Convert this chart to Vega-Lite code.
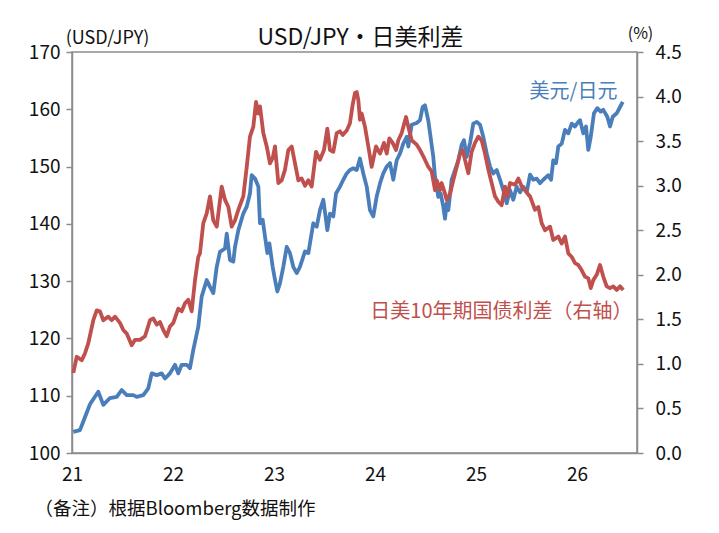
{
  "$schema": "https://vega.github.io/schema/vega-lite/v6.json",
  "width": 565,
  "height": 401,
  "autosize": {"type": "none"},
  "padding": {"left": 72, "top": 52, "right": 82, "bottom": 80},
  "background": "white",
  "config": {
    "font": "Noto Sans CJK JP",
    "view": {"stroke": "#8c8c8c", "strokeWidth": 1.5},
    "axis": {
      "grid": false,
      "domainColor": "#8c8c8c",
      "domainWidth": 1.5,
      "tickColor": "#8c8c8c",
      "tickWidth": 1.5,
      "labelColor": "#111111",
      "labelFontSize": 19,
      "labelFont": "Noto Sans CJK JP",
      "titleFont": "Noto Sans CJK JP",
      "titleColor": "#111111",
      "titleFontWeight": "normal"
    }
  },
  "title": {
    "text": "USD/JPY・日美利差",
    "fontSize": 23,
    "fontWeight": "normal",
    "color": "#111111",
    "anchor": "middle",
    "frame": "group",
    "offset": -25,
    "dx": 6
  },
  "datasets": {
    "usdjpy": [
      {"t": 21.013, "usdjpy": 103.7}, {"t": 21.079, "usdjpy": 104.0}, {"t": 21.112, "usdjpy": 105.5},
      {"t": 21.178, "usdjpy": 108.5}, {"t": 21.26, "usdjpy": 110.7}, {"t": 21.31, "usdjpy": 108.4},
      {"t": 21.376, "usdjpy": 109.6}, {"t": 21.443, "usdjpy": 109.8}, {"t": 21.492, "usdjpy": 111.0},
      {"t": 21.542, "usdjpy": 110.1}, {"t": 21.607, "usdjpy": 110.1}, {"t": 21.641, "usdjpy": 109.8},
      {"t": 21.706, "usdjpy": 110.1}, {"t": 21.755, "usdjpy": 111.3}, {"t": 21.789, "usdjpy": 113.9},
      {"t": 21.839, "usdjpy": 113.6}, {"t": 21.888, "usdjpy": 113.9}, {"t": 21.921, "usdjpy": 113.0},
      {"t": 21.97, "usdjpy": 113.9}, {"t": 22.02, "usdjpy": 115.4}, {"t": 22.052, "usdjpy": 113.9},
      {"t": 22.086, "usdjpy": 115.4}, {"t": 22.136, "usdjpy": 115.4}, {"t": 22.168, "usdjpy": 114.8},
      {"t": 22.201, "usdjpy": 118.0}, {"t": 22.25, "usdjpy": 122.0}, {"t": 22.284, "usdjpy": 127.3},
      {"t": 22.334, "usdjpy": 130.2}, {"t": 22.366, "usdjpy": 129.0}, {"t": 22.399, "usdjpy": 127.9},
      {"t": 22.433, "usdjpy": 132.5}, {"t": 22.465, "usdjpy": 135.1}, {"t": 22.515, "usdjpy": 135.7},
      {"t": 22.532, "usdjpy": 138.3}, {"t": 22.564, "usdjpy": 133.7}, {"t": 22.597, "usdjpy": 133.4},
      {"t": 22.614, "usdjpy": 136.0}, {"t": 22.647, "usdjpy": 138.9}, {"t": 22.696, "usdjpy": 141.8},
      {"t": 22.73, "usdjpy": 143.0}, {"t": 22.762, "usdjpy": 145.3}, {"t": 22.779, "usdjpy": 148.5},
      {"t": 22.812, "usdjpy": 147.9}, {"t": 22.845, "usdjpy": 146.5}, {"t": 22.861, "usdjpy": 140.1},
      {"t": 22.888, "usdjpy": 140.7}, {"t": 22.911, "usdjpy": 137.8}, {"t": 22.934, "usdjpy": 134.9},
      {"t": 22.954, "usdjpy": 136.6}, {"t": 22.987, "usdjpy": 132.5}, {"t": 23.01, "usdjpy": 130.2},
      {"t": 23.033, "usdjpy": 128.2}, {"t": 23.059, "usdjpy": 129.6}, {"t": 23.092, "usdjpy": 132.5},
      {"t": 23.126, "usdjpy": 136.0}, {"t": 23.158, "usdjpy": 134.9}, {"t": 23.191, "usdjpy": 132.5},
      {"t": 23.225, "usdjpy": 131.4}, {"t": 23.257, "usdjpy": 132.5}, {"t": 23.307, "usdjpy": 135.2},
      {"t": 23.34, "usdjpy": 134.9}, {"t": 23.389, "usdjpy": 140.1}, {"t": 23.423, "usdjpy": 139.5},
      {"t": 23.455, "usdjpy": 142.4}, {"t": 23.488, "usdjpy": 144.2}, {"t": 23.515, "usdjpy": 140.7},
      {"t": 23.528, "usdjpy": 138.9}, {"t": 23.554, "usdjpy": 141.8}, {"t": 23.587, "usdjpy": 141.3},
      {"t": 23.614, "usdjpy": 145.3}, {"t": 23.653, "usdjpy": 146.5}, {"t": 23.686, "usdjpy": 147.7},
      {"t": 23.72, "usdjpy": 148.8}, {"t": 23.752, "usdjpy": 149.4}, {"t": 23.785, "usdjpy": 149.7},
      {"t": 23.819, "usdjpy": 149.4}, {"t": 23.851, "usdjpy": 151.4}, {"t": 23.884, "usdjpy": 148.8},
      {"t": 23.918, "usdjpy": 146.5}, {"t": 23.95, "usdjpy": 142.4}, {"t": 23.983, "usdjpy": 141.3},
      {"t": 24.017, "usdjpy": 144.8}, {"t": 24.05, "usdjpy": 147.1}, {"t": 24.082, "usdjpy": 148.8},
      {"t": 24.116, "usdjpy": 150.0}, {"t": 24.149, "usdjpy": 150.6}, {"t": 24.181, "usdjpy": 147.7},
      {"t": 24.215, "usdjpy": 151.1}, {"t": 24.248, "usdjpy": 152.3}, {"t": 24.28, "usdjpy": 154.0},
      {"t": 24.314, "usdjpy": 155.2}, {"t": 24.33, "usdjpy": 153.5}, {"t": 24.363, "usdjpy": 157.3},
      {"t": 24.413, "usdjpy": 157.6}, {"t": 24.446, "usdjpy": 158.1}, {"t": 24.472, "usdjpy": 160.4},
      {"t": 24.495, "usdjpy": 160.7}, {"t": 24.528, "usdjpy": 158.0}, {"t": 24.545, "usdjpy": 155.8},
      {"t": 24.577, "usdjpy": 151.7}, {"t": 24.594, "usdjpy": 148.2}, {"t": 24.627, "usdjpy": 144.7},
      {"t": 24.65, "usdjpy": 145.3}, {"t": 24.676, "usdjpy": 143.0}, {"t": 24.693, "usdjpy": 140.9},
      {"t": 24.71, "usdjpy": 143.6}, {"t": 24.726, "usdjpy": 142.4}, {"t": 24.759, "usdjpy": 147.7},
      {"t": 24.792, "usdjpy": 149.4}, {"t": 24.825, "usdjpy": 151.1}, {"t": 24.858, "usdjpy": 153.8},
      {"t": 24.881, "usdjpy": 154.6}, {"t": 24.908, "usdjpy": 151.7}, {"t": 24.941, "usdjpy": 154.1},
      {"t": 24.973, "usdjpy": 157.5}, {"t": 25.007, "usdjpy": 157.8}, {"t": 25.04, "usdjpy": 157.3},
      {"t": 25.072, "usdjpy": 155.2}, {"t": 25.106, "usdjpy": 152.3}, {"t": 25.139, "usdjpy": 150.0},
      {"t": 25.171, "usdjpy": 148.8}, {"t": 25.205, "usdjpy": 149.4}, {"t": 25.238, "usdjpy": 147.7},
      {"t": 25.27, "usdjpy": 145.9}, {"t": 25.304, "usdjpy": 143.6}, {"t": 25.337, "usdjpy": 145.9},
      {"t": 25.369, "usdjpy": 144.2}, {"t": 25.403, "usdjpy": 146.5}, {"t": 25.436, "usdjpy": 145.5},
      {"t": 25.468, "usdjpy": 146.5}, {"t": 25.502, "usdjpy": 145.5}, {"t": 25.535, "usdjpy": 148.6},
      {"t": 25.567, "usdjpy": 147.7}, {"t": 25.601, "usdjpy": 147.9}, {"t": 25.634, "usdjpy": 147.1},
      {"t": 25.666, "usdjpy": 147.7}, {"t": 25.716, "usdjpy": 148.5}, {"t": 25.743, "usdjpy": 147.7},
      {"t": 25.765, "usdjpy": 151.1}, {"t": 25.792, "usdjpy": 150.6}, {"t": 25.815, "usdjpy": 153.5},
      {"t": 25.849, "usdjpy": 154.0}, {"t": 25.881, "usdjpy": 156.4}, {"t": 25.914, "usdjpy": 155.8},
      {"t": 25.948, "usdjpy": 157.5}, {"t": 25.98, "usdjpy": 157.0}, {"t": 26.013, "usdjpy": 157.8},
      {"t": 26.03, "usdjpy": 158.1}, {"t": 26.062, "usdjpy": 155.8}, {"t": 26.089, "usdjpy": 157.0},
      {"t": 26.112, "usdjpy": 152.9}, {"t": 26.136, "usdjpy": 155.2}, {"t": 26.168, "usdjpy": 159.3},
      {"t": 26.201, "usdjpy": 160.2}, {"t": 26.235, "usdjpy": 159.6}, {"t": 26.26, "usdjpy": 159.9},
      {"t": 26.3, "usdjpy": 158.7}, {"t": 26.327, "usdjpy": 157.0}, {"t": 26.354, "usdjpy": 158.7},
      {"t": 26.393, "usdjpy": 159.3}, {"t": 26.426, "usdjpy": 160.4}, {"t": 26.453, "usdjpy": 161.3}
    ],
    "spread": [
      {"t": 21.013, "spread": 0.9}, {"t": 21.047, "spread": 1.08}, {"t": 21.096, "spread": 1.04},
      {"t": 21.129, "spread": 1.12}, {"t": 21.161, "spread": 1.23}, {"t": 21.211, "spread": 1.49},
      {"t": 21.245, "spread": 1.6}, {"t": 21.277, "spread": 1.59}, {"t": 21.31, "spread": 1.49},
      {"t": 21.359, "spread": 1.53}, {"t": 21.393, "spread": 1.49}, {"t": 21.426, "spread": 1.53},
      {"t": 21.475, "spread": 1.46}, {"t": 21.508, "spread": 1.38}, {"t": 21.542, "spread": 1.34},
      {"t": 21.591, "spread": 1.21}, {"t": 21.624, "spread": 1.27}, {"t": 21.673, "spread": 1.27},
      {"t": 21.723, "spread": 1.31}, {"t": 21.772, "spread": 1.49}, {"t": 21.805, "spread": 1.51},
      {"t": 21.839, "spread": 1.44}, {"t": 21.871, "spread": 1.47}, {"t": 21.904, "spread": 1.38},
      {"t": 21.938, "spread": 1.31}, {"t": 21.97, "spread": 1.42}, {"t": 22.003, "spread": 1.46},
      {"t": 22.052, "spread": 1.62}, {"t": 22.086, "spread": 1.59}, {"t": 22.119, "spread": 1.68},
      {"t": 22.151, "spread": 1.72}, {"t": 22.185, "spread": 1.59}, {"t": 22.218, "spread": 1.94},
      {"t": 22.25, "spread": 2.2}, {"t": 22.267, "spread": 2.24}, {"t": 22.3, "spread": 2.58},
      {"t": 22.334, "spread": 2.69}, {"t": 22.366, "spread": 2.88}, {"t": 22.399, "spread": 2.61},
      {"t": 22.433, "spread": 2.54}, {"t": 22.482, "spread": 2.99}, {"t": 22.515, "spread": 2.84},
      {"t": 22.548, "spread": 2.76}, {"t": 22.581, "spread": 2.54}, {"t": 22.614, "spread": 2.61},
      {"t": 22.647, "spread": 2.73}, {"t": 22.696, "spread": 2.88}, {"t": 22.73, "spread": 3.21},
      {"t": 22.762, "spread": 3.55}, {"t": 22.795, "spread": 3.66}, {"t": 22.822, "spread": 3.94},
      {"t": 22.845, "spread": 3.81}, {"t": 22.861, "spread": 3.89}, {"t": 22.894, "spread": 3.59},
      {"t": 22.928, "spread": 3.44}, {"t": 22.96, "spread": 3.25}, {"t": 22.987, "spread": 3.31},
      {"t": 23.01, "spread": 3.44}, {"t": 23.043, "spread": 3.03}, {"t": 23.076, "spread": 3.06},
      {"t": 23.109, "spread": 3.18}, {"t": 23.142, "spread": 3.4}, {"t": 23.175, "spread": 3.44},
      {"t": 23.208, "spread": 3.25}, {"t": 23.241, "spread": 3.06}, {"t": 23.274, "spread": 3.08},
      {"t": 23.307, "spread": 3.0}, {"t": 23.34, "spread": 3.06}, {"t": 23.373, "spread": 2.99},
      {"t": 23.416, "spread": 3.38}, {"t": 23.455, "spread": 3.29}, {"t": 23.495, "spread": 3.4},
      {"t": 23.528, "spread": 3.64}, {"t": 23.554, "spread": 3.4}, {"t": 23.587, "spread": 3.38},
      {"t": 23.621, "spread": 3.59}, {"t": 23.653, "spread": 3.61}, {"t": 23.68, "spread": 3.57},
      {"t": 23.72, "spread": 3.62}, {"t": 23.752, "spread": 3.7}, {"t": 23.779, "spread": 3.91},
      {"t": 23.802, "spread": 4.04}, {"t": 23.819, "spread": 4.05}, {"t": 23.835, "spread": 3.96},
      {"t": 23.851, "spread": 3.74}, {"t": 23.868, "spread": 3.81}, {"t": 23.901, "spread": 3.66},
      {"t": 23.934, "spread": 3.44}, {"t": 23.967, "spread": 3.21}, {"t": 24.01, "spread": 3.44},
      {"t": 24.05, "spread": 3.36}, {"t": 24.089, "spread": 3.48}, {"t": 24.116, "spread": 3.36},
      {"t": 24.142, "spread": 3.53}, {"t": 24.175, "spread": 3.48}, {"t": 24.208, "spread": 3.4},
      {"t": 24.231, "spread": 3.51}, {"t": 24.264, "spread": 3.59}, {"t": 24.307, "spread": 3.77},
      {"t": 24.33, "spread": 3.66}, {"t": 24.363, "spread": 3.51}, {"t": 24.413, "spread": 3.46},
      {"t": 24.446, "spread": 3.4}, {"t": 24.478, "spread": 3.33}, {"t": 24.528, "spread": 3.21},
      {"t": 24.561, "spread": 3.16}, {"t": 24.594, "spread": 2.95}, {"t": 24.611, "spread": 3.06},
      {"t": 24.644, "spread": 2.95}, {"t": 24.66, "spread": 3.03}, {"t": 24.693, "spread": 2.91},
      {"t": 24.71, "spread": 2.84}, {"t": 24.743, "spread": 2.91}, {"t": 24.775, "spread": 3.06},
      {"t": 24.809, "spread": 3.21}, {"t": 24.842, "spread": 3.36}, {"t": 24.868, "spread": 3.4},
      {"t": 24.891, "spread": 3.29}, {"t": 24.924, "spread": 3.14}, {"t": 24.957, "spread": 3.38},
      {"t": 24.99, "spread": 3.48}, {"t": 25.023, "spread": 3.55}, {"t": 25.056, "spread": 3.51},
      {"t": 25.089, "spread": 3.36}, {"t": 25.122, "spread": 3.18}, {"t": 25.155, "spread": 3.03},
      {"t": 25.188, "spread": 2.88}, {"t": 25.221, "spread": 2.82}, {"t": 25.254, "spread": 2.78},
      {"t": 25.287, "spread": 2.99}, {"t": 25.31, "spread": 2.88}, {"t": 25.337, "spread": 3.03},
      {"t": 25.386, "spread": 3.01}, {"t": 25.419, "spread": 3.08}, {"t": 25.453, "spread": 2.99},
      {"t": 25.485, "spread": 2.95}, {"t": 25.518, "spread": 2.9}, {"t": 25.535, "spread": 2.88},
      {"t": 25.584, "spread": 2.73}, {"t": 25.617, "spread": 2.76}, {"t": 25.65, "spread": 2.58},
      {"t": 25.683, "spread": 2.5}, {"t": 25.733, "spread": 2.54}, {"t": 25.765, "spread": 2.39},
      {"t": 25.815, "spread": 2.43}, {"t": 25.849, "spread": 2.35}, {"t": 25.881, "spread": 2.43},
      {"t": 25.914, "spread": 2.24}, {"t": 25.948, "spread": 2.2}, {"t": 25.98, "spread": 2.13},
      {"t": 26.013, "spread": 2.11}, {"t": 26.047, "spread": 2.05}, {"t": 26.079, "spread": 1.98},
      {"t": 26.112, "spread": 1.96}, {"t": 26.136, "spread": 1.85}, {"t": 26.161, "spread": 1.94},
      {"t": 26.195, "spread": 2.0}, {"t": 26.228, "spread": 2.11}, {"t": 26.26, "spread": 1.98},
      {"t": 26.294, "spread": 1.87}, {"t": 26.327, "spread": 1.85}, {"t": 26.359, "spread": 1.87},
      {"t": 26.393, "spread": 1.83}, {"t": 26.426, "spread": 1.87}, {"t": 26.458, "spread": 1.83}
    ]
  },
  "encoding": {
    "x": {
      "field": "t",
      "type": "quantitative",
      "scale": {"domain": [21, 26.594], "nice": false, "zero": false},
      "axis": {
        "values": [21, 22, 23, 24, 25, 26],
        "format": "d",
        "ticks": false,
        "labelPadding": 21,
        "labelBaseline": "middle",
        "labelFlush": false,
        "title": "（备注）根据Bloomberg数据制作",
        "titleFontSize": 18.5,
        "titleAnchor": "start",
        "titleAlign": "left",
        "titleBaseline": "middle",
        "titleX": -38,
        "titleY": 55
      }
    }
  },
  "layer": [
    {
      "encoding": {
        "y": {
          "field": "usdjpy",
          "type": "quantitative",
          "scale": {"domain": [100, 170], "nice": false, "zero": false},
          "axis": {
            "orient": "left",
            "values": [100, 110, 120, 130, 140, 150, 160, 170],
            "tickSize": 6,
            "labelPadding": 6,
            "title": "(USD/JPY)",
            "titleAngle": 0,
            "titleFontSize": 18,
            "titleAlign": "center",
            "titleBaseline": "middle",
            "titleX": 35,
            "titleY": -14
          }
        }
      },
      "layer": [
        {
          "data": {"name": "usdjpy"},
          "mark": {"type": "line", "color": "#4A7EBB", "strokeWidth": 3.8, "strokeJoin": "round"}
        },
        {
          "data": {"values": [{"t": 26.4, "usdjpy": 163.0, "label": "美元/日元"}]},
          "mark": {"type": "text", "align": "right", "baseline": "middle", "fontSize": 20, "color": "#4A7EBB", "font": "Noto Sans CJK JP"},
          "encoding": {"text": {"field": "label"}}
        }
      ]
    },
    {
      "encoding": {
        "y": {
          "field": "spread",
          "type": "quantitative",
          "scale": {"domain": [0, 4.5], "nice": false},
          "axis": {
            "orient": "right",
            "values": [0, 0.5, 1, 1.5, 2, 2.5, 3, 3.5, 4, 4.5],
            "format": ".1f",
            "tickSize": 6,
            "labelPadding": 12,
            "title": "(%)",
            "titleAngle": 0,
            "titleFontSize": 16,
            "titleAlign": "center",
            "titleBaseline": "middle",
            "titleX": 3,
            "titleY": -19
          }
        }
      },
      "layer": [
        {
          "data": {"name": "spread"},
          "mark": {"type": "line", "color": "#C0504D", "strokeWidth": 3.8, "strokeJoin": "round"}
        },
        {
          "data": {"values": [{"t": 26.55, "spread": 1.58, "label": "日美10年期国债利差（右轴）"}]},
          "mark": {"type": "text", "align": "right", "baseline": "middle", "fontSize": 20, "color": "#C0504D", "font": "Noto Sans CJK JP"},
          "encoding": {"text": {"field": "label"}}
        }
      ]
    }
  ],
  "resolve": {"scale": {"y": "independent"}}
}
